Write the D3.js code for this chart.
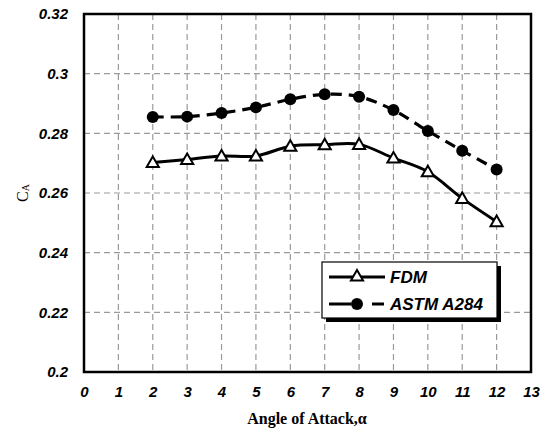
<!DOCTYPE html>
<meta charset="utf-8">
<style>
body { margin: 0; background: #fff; }
.grid line { stroke: #9a9a9a; stroke-width: 1.2; stroke-dasharray: 6,4; }
.tick text { font-family: Arial, "Liberation Sans", sans-serif; font-weight: bold; font-style: italic; font-size: 15px; fill: #000; }
</style>
<body>
<svg width="540" height="441"></svg>
<script src="https://cdn.jsdelivr.net/npm/d3@7"></script>
<script>

// data
var angles = [2, 3, 4, 5, 6, 7, 8, 9, 10, 11, 12];
var fdm    = [0.2702, 0.2712, 0.2724, 0.2724, 0.2757, 0.2762, 0.2763, 0.2717, 0.2671, 0.2582, 0.2504];
var astm   = [0.2855, 0.2856, 0.2868, 0.2887, 0.2914, 0.2931, 0.2923, 0.2878, 0.2808, 0.2742, 0.2679];
var xTicks = d3.range(0, 14);
var yTicks = [0.2, 0.22, 0.24, 0.26, 0.28, 0.3, 0.32];

var svg = d3.select("svg");
var plotL = 84, plotR = 531, plotT = 14, plotB = 372;

var x = d3.scaleLinear().domain([0, 13]).range([plotL, plotR]);
var y = d3.scaleLinear().domain([0.2, 0.32]).range([plotB, plotT]);

// grid
var grid = svg.append("g").attr("class", "grid");
grid.selectAll(".v").data(d3.range(1, 13)).enter().append("line")
    .attr("x1", d => x(d)).attr("x2", d => x(d))
    .attr("y1", plotT).attr("y2", plotB);
grid.selectAll(".h").data(yTicks.slice(1, -1)).enter().append("line")
    .attr("x1", plotL).attr("x2", plotR)
    .attr("y1", d => y(d)).attr("y2", d => y(d));

// frame
svg.append("rect")
    .attr("x", plotL).attr("y", plotT)
    .attr("width", plotR - plotL).attr("height", plotB - plotT)
    .attr("fill", "none").attr("stroke", "#000").attr("stroke-width", 2.5);

// axes (labels only)
var yAxis = svg.append("g")
    .attr("transform", "translate(" + (plotL - 13) + ",0)")
    .call(d3.axisLeft(y).tickValues(yTicks).tickSize(0).tickFormat(d => +d.toFixed(2) + ""));
yAxis.select(".domain").remove();

var xAxis = svg.append("g")
    .attr("transform", "translate(0," + (plotB + 11) + ")")
    .call(d3.axisBottom(x).tickValues(xTicks).tickSize(0).tickFormat(d3.format("d")));
xAxis.select(".domain").remove();

// titles
svg.append("text")
    .attr("x", 307).attr("y", 424)
    .attr("text-anchor", "middle")
    .style("font-family", "'Liberation Serif', 'Times New Roman', serif")
    .style("font-weight", "bold").style("font-size", "16px")
    .text("Angle of Attack,α");

var yt = svg.append("text")
    .attr("transform", "translate(28,193) rotate(-90)")
    .attr("text-anchor", "middle")
    .style("font-family", "'Liberation Serif', 'Times New Roman', serif")
    .style("font-size", "16px");
yt.append("tspan").text("C");
yt.append("tspan").attr("font-size", "10px").attr("dy", "1").text("A");

// series
var line = d3.line()
    .x((d, i) => x(angles[i]))
    .y(d => y(d))
    .curve(d3.curveCardinal.tension(0));

svg.append("path").datum(astm)
    .attr("d", line)
    .attr("fill", "none").attr("stroke", "#000")
    .attr("stroke-width", 3.2).attr("stroke-dasharray", "11,7");

svg.append("path").datum(fdm)
    .attr("d", line)
    .attr("fill", "none").attr("stroke", "#000")
    .attr("stroke-width", 3);

svg.selectAll(".dot").data(astm).enter().append("circle")
    .attr("cx", (d, i) => x(angles[i]))
    .attr("cy", d => y(d))
    .attr("r", 6).attr("fill", "#000");

var tri = d3.symbol().type(d3.symbolTriangle).size(64);
svg.selectAll(".tri").data(fdm).enter().append("path")
    .attr("d", tri)
    .attr("transform", (d, i) => "translate(" + x(angles[i]) + "," + (y(d) + 1) + ")")
    .attr("fill", "#fff").attr("stroke", "#000").attr("stroke-width", 2);

// legend
var lg = svg.append("g").attr("transform", "translate(322,262)");
lg.append("rect").attr("x", 4).attr("y", 4).attr("width", 175).attr("height", 56).attr("fill", "#000");
lg.append("rect").attr("width", 175).attr("height", 56)
    .attr("fill", "#fff").attr("stroke", "#000").attr("stroke-width", 1.2);

lg.append("line").attr("x1", 7).attr("x2", 63).attr("y1", 15).attr("y2", 15)
    .attr("stroke", "#000").attr("stroke-width", 3);
lg.append("path").attr("d", tri).attr("transform", "translate(35,15)")
    .attr("fill", "#fff").attr("stroke", "#000").attr("stroke-width", 2);

lg.append("line").attr("x1", 7).attr("x2", 63).attr("y1", 42).attr("y2", 42)
    .attr("stroke", "#000").attr("stroke-width", 3).attr("stroke-dasharray", "22,11,0,10,12");
lg.append("circle").attr("cx", 35).attr("cy", 42).attr("r", 6).attr("fill", "#000");

lg.selectAll(".lt").data(["FDM", "ASTM A284"]).enter().append("text")
    .attr("x", 68).attr("y", (d, i) => 21 + i * 27)
    .style("font-family", "Arial, 'Liberation Sans', sans-serif")
    .style("font-weight", "bold").style("font-style", "italic").style("font-size", "17px")
    .text(d => d);

</script>
</body>
